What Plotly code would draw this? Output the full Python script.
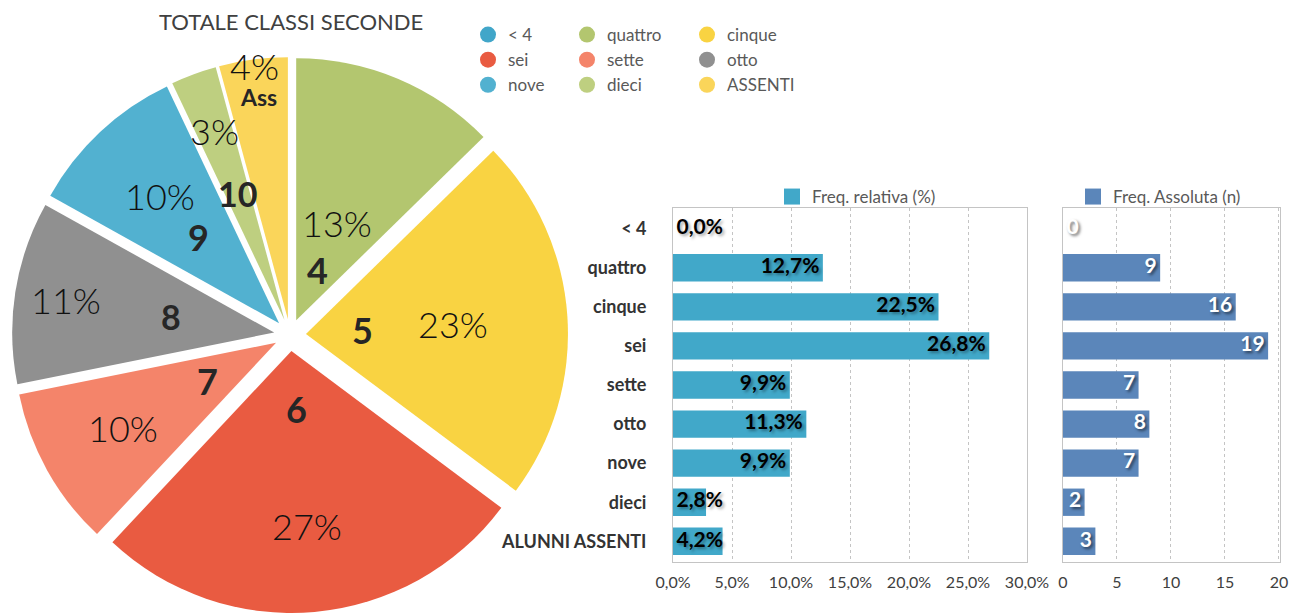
import math
import plotly.graph_objects as go

# ---------------- data ----------------
TITLE = "TOTALE CLASSI SECONDE"
pie_labels = ["< 4", "quattro", "cinque", "sei", "sette", "otto", "nove", "dieci", "ASSENTI"]
pie_values = [0, 9, 16, 19, 7, 8, 7, 2, 3]
pie_tags = ["", "4", "5", "6", "7", "8", "9", "10", "Ass"]

bar_categories = ["< 4", "quattro", "cinque", "sei", "sette", "otto", "nove", "dieci", "ALUNNI ASSENTI"]
freq_rel = [0.0, 12.7, 22.5, 26.8, 9.9, 11.3, 9.9, 2.8, 4.2]
freq_abs = [0, 9, 16, 19, 7, 8, 7, 2, 3]
rel_ticks = [0, 5, 10, 15, 20, 25, 30]
abs_ticks = [0, 5, 10, 15, 20]
REL_NAME = "Freq. relativa (%)"
ABS_NAME = "Freq. Assoluta (n)"

# ---------------- style ----------------
VIEW_W, VIEW_H = 1300, 613
BODY = 8                      # default page margin around the figure div
W, H = VIEW_W - BODY, VIEW_H - BODY
FONT = "Lato, 'Open Sans', sans-serif"
PIE_COLORS = ["#41A6C9", "#B3C66F", "#F9D342", "#E95B41", "#F4846A",
              "#909090", "#52B1D0", "#BECF80", "#FAD55A"]
REL_COLOR = "#41A8C9"
ABS_COLOR = "#5B86BA"
GRID = "#C4C4C4"


def px2x(px):
    return (px - BODY) / W


def py2y(py):
    return 1 - (py - BODY) / H


# pie geometry (page pixels)
PIE_CX, PIE_BOX = 290, 556
PIE_CY = VIEW_H - PIE_BOX / 2
PIE_PULL = 0.061
pie_dom_x = [px2x(PIE_CX - PIE_BOX / 2), px2x(PIE_CX + PIE_BOX / 2)]
pie_dom_y = [0, PIE_BOX / H]
# label distance from pie centre (px), per slice
pct_label_px = [0, 122, 163, 192, 191, 227, 190, 218, 271]
tag_label_px = [0, 71, 73, 74, 94, 120, 134, 151, 240]
tag_sizes = [34, 36, 36, 36, 36, 34, 36, 34, 23]

# bar plot domains (page pixels)
rel_dom_x = [px2x(673), px2x(1027)]
abs_dom_x = [px2x(1063), px2x(1280)]
bar_dom_y = [py2y(562), py2y(208)]

fig = go.Figure()

# ---------------- pie ----------------
fig.add_trace(go.Pie(
    labels=pie_labels, values=pie_values, sort=False, direction="clockwise",
    rotation=0, pull=[PIE_PULL] * len(pie_values),
    marker=dict(colors=PIE_COLORS, line=dict(width=0)),
    textinfo="none", hoverinfo="label+value+percent", showlegend=False,
    domain=dict(x=pie_dom_x, y=pie_dom_y),
))

total = sum(pie_values)
annotations = []
cum = 0
for i, v in enumerate(pie_values):
    mid = math.radians((cum + v / 2) / total * 360)
    cum += v
    if v <= 0:
        continue
    pct = f"{round(v / total * 100)}%"
    for txt, rad, size, weight, color in (
        (pct, pct_label_px[i], 36, 300, "#111111"),
        (pie_tags[i], tag_label_px[i], tag_sizes[i], "bold", "#262626"),
    ):
        px = PIE_CX + rad * math.sin(mid)
        py = PIE_CY - rad * math.cos(mid)
        annotations.append(dict(
            text=txt, x=px2x(px), y=py2y(py), xref="paper", yref="paper",
            showarrow=False, xanchor="center", yanchor="middle",
            font=dict(family=FONT, size=size, color=color, weight=weight)))

# pie legend (3 columns)
legend_ids = ["legend", "legend2", "legend3"]
for i, (lab, col) in enumerate(zip(pie_labels, PIE_COLORS)):
    fig.add_trace(go.Scatter(
        x=[None], y=[None], mode="markers", name=lab,
        marker=dict(symbol="circle", size=16, color=col),
        legend=legend_ids[i % 3], showlegend=True, hoverinfo="skip",
        xaxis="x", yaxis="y",
    ))

# ---------------- bars ----------------
fig.add_trace(go.Bar(
    y=bar_categories, x=freq_rel, orientation="h", marker=dict(color=REL_COLOR, line=dict(width=0)),
    name=REL_NAME, showlegend=False, xaxis="x", yaxis="y",
))
fig.add_trace(go.Bar(
    y=bar_categories, x=freq_abs, orientation="h", marker=dict(color=ABS_COLOR, line=dict(width=0)),
    name=ABS_NAME, showlegend=False, xaxis="x2", yaxis="y2",
))

# legend icons for bars
fig.add_trace(go.Scatter(x=[None], y=[None], mode="markers", name=REL_NAME,
                         marker=dict(symbol="square", size=16, color=REL_COLOR),
                         legend="legend4", xaxis="x", yaxis="y"))
fig.add_trace(go.Scatter(x=[None], y=[None], mode="markers", name=ABS_NAME,
                         marker=dict(symbol="square", size=16, color=ABS_COLOR),
                         legend="legend5", xaxis="x2", yaxis="y2"))


def fmt_pct(v):
    return f"{v:.1f}".replace(".", ",") + "%"


# value labels (inside end; at base when the bar is too short)
REL_FIT = 5
rel_x = [v if v >= REL_FIT else 0 for v in freq_rel]
rel_pos = ["middle left" if v >= REL_FIT else "middle right" for v in freq_rel]
fig.add_trace(go.Scatter(
    x=rel_x, y=bar_categories, mode="markers+text", text=[fmt_pct(v) for v in freq_rel],
    textposition=rel_pos, marker=dict(size=4, opacity=0),
    textfont=dict(family=FONT, size=21, color="#000000", weight="bold",
                  shadow="2px 2px 3px rgba(0,0,0,0.35)"),
    cliponaxis=False, showlegend=False, hoverinfo="skip", xaxis="x", yaxis="y",
))
ABS_FIT = 1
abs_x = [v if v >= ABS_FIT else 0 for v in freq_abs]
abs_pos = ["middle left" if v >= ABS_FIT else "middle right" for v in freq_abs]
fig.add_trace(go.Scatter(
    x=abs_x, y=bar_categories, mode="markers+text", text=[str(v) for v in freq_abs],
    textposition=abs_pos, marker=dict(size=4, opacity=0),
    textfont=dict(family=FONT, size=21, color="#FFFFFF", weight="bold",
                  shadow="2px 2px 3px rgba(0,0,0,0.55)"),
    cliponaxis=False, showlegend=False, hoverinfo="skip", xaxis="x2", yaxis="y2",
))

# ---------------- layout ----------------
axis_common = dict(showline=True, linecolor=GRID, linewidth=1, mirror=True,
                   zeroline=False, ticks="", fixedrange=True, automargin=False)

legend_common = dict(bgcolor="rgba(0,0,0,0)", xanchor="left", yanchor="middle",
                     orientation="v", itemclick=False, itemdoubleclick=False)
pie_leg_font = dict(family=FONT, size=17, color="#595959")
bar_leg_font = dict(family=FONT, size=17, color="#595959")

annotations.append(dict(text=TITLE, x=px2x(291), y=py2y(21), xref="paper", yref="paper",
                        showarrow=False, xanchor="center", yanchor="middle",
                        font=dict(family=FONT, size=22, color="#404040")))

fig.update_layout(
    width=W, height=H, margin=dict(l=0, r=0, t=0, b=0, autoexpand=False),
    paper_bgcolor="white", plot_bgcolor="white",
    separators=",.",
    font=dict(family=FONT, color="#404040"),
    bargap=0.3,
    xaxis=dict(domain=rel_dom_x, range=[0, 30], tickvals=rel_ticks,
               ticktext=[fmt_pct(t) for t in rel_ticks],
               showgrid=True, gridcolor=GRID, griddash="dot", gridwidth=1,
               tickfont=dict(family=FONT, size=16, color="#404040"),
               ticklabelstandoff=6, anchor="y", **axis_common),
    yaxis=dict(domain=bar_dom_y, autorange="reversed", type="category",
               categoryorder="array", categoryarray=bar_categories,
               showgrid=False, tickfont=dict(family=FONT, size=18, color="#333333", weight="bold"),
               ticklabelstandoff=22, anchor="x", **axis_common),
    xaxis2=dict(domain=abs_dom_x, range=[0, 20.1], tickvals=abs_ticks,
                showgrid=True, gridcolor=GRID, griddash="dot", gridwidth=1,
                tickfont=dict(family=FONT, size=16, color="#404040"),
                ticklabelstandoff=6, anchor="y2", **axis_common),
    yaxis2=dict(domain=bar_dom_y, autorange="reversed", type="category",
                categoryorder="array", categoryarray=bar_categories,
                showgrid=False, showticklabels=False, anchor="x2", **axis_common),
    legend=dict(x=px2x(468), y=py2y(60), font=pie_leg_font, **legend_common),
    legend2=dict(x=px2x(567), y=py2y(60), font=pie_leg_font, **legend_common),
    legend3=dict(x=px2x(687), y=py2y(60), font=pie_leg_font, **legend_common),
    legend4=dict(x=px2x(772), y=py2y(197), font=bar_leg_font, **legend_common),
    legend5=dict(x=px2x(1073), y=py2y(197), font=bar_leg_font, **legend_common),
    annotations=annotations,
)

fig.write_html("out.html")
